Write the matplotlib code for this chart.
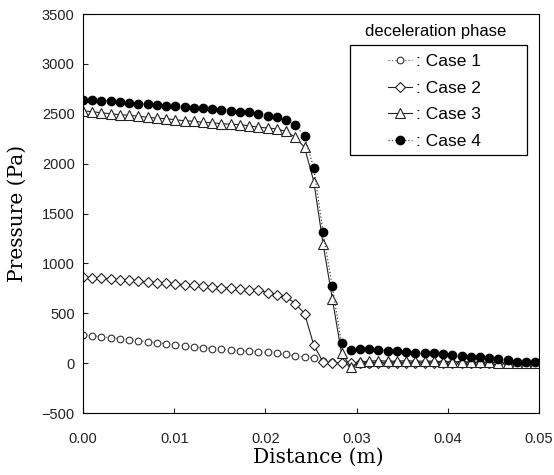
import numpy as np
import matplotlib.pyplot as plt
from matplotlib.patches import Rectangle

# 50 sampling stations along the channel (m)
distance = np.linspace(0, 0.0496, 50)

case1 = [285, 275, 265, 255, 245, 235, 225, 215, 205, 195,
         185, 175, 165, 155, 145, 140, 132, 125, 120, 113,
         107, 97, 87, 73, 63, 47, 20, 13, 0, -5,
         -10, -5, 0, 0, 0, 0, 0, 0, 0, 0,
         0, 0, -5, -5, -5, -10, -10, -10, -10, -10]
case2 = [865, 858, 850, 843, 836, 830, 822, 815, 808, 800,
         793, 786, 780, 772, 765, 758, 750, 740, 730, 730,
         707, 687, 663, 597, 497, 180, 13, 5, 0, 0,
         0, 0, 0, 0, 0, 0, 0, 0, 0, 0,
         0, 0, 0, 0, 0, 0, 0, 0, 0, 0]
case3 = [2530, 2520, 2510, 2500, 2490, 2485, 2475, 2465, 2455, 2450,
         2440, 2430, 2425, 2415, 2410, 2400, 2395, 2390, 2380, 2365,
         2357, 2347, 2323, 2263, 2163, 1820, 1197, 647, 100, -35,
         10, 20, 25, 20, 20, 25, 20, 20, 20, 15,
         15, 15, 10, 10, 10, 5, 5, 0, 0, 0]
case4 = [2640, 2635, 2630, 2625, 2615, 2610, 2600, 2595, 2590, 2580,
         2575, 2570, 2560, 2555, 2550, 2540, 2530, 2520, 2513, 2497,
         2480, 2463, 2437, 2387, 2273, 1953, 1313, 770, 197, 130,
         140, 140, 130, 125, 120, 113, 103, 97, 97, 87,
         80, 70, 63, 57, 53, 37, 30, 15, 15, 15]

fig = plt.figure(figsize=(5.54, 4.75), dpi=100)
ax = fig.add_axes([0.1498, 0.1305, 0.8232, 0.84])

ax.plot(distance, case1, color='#666666', linestyle=':', linewidth=0.9,
        marker='o', markersize=4.8, markerfacecolor='white',
        markeredgecolor='#333333', markeredgewidth=0.8, label=': Case 1')
ax.plot(distance, case2, color='#222222', linestyle='-', linewidth=0.8,
        marker='D', markersize=5.5, markerfacecolor='white',
        markeredgecolor='#222222', markeredgewidth=0.8, label=': Case 2')
ax.plot(distance, case3, color='#222222', linestyle='-', linewidth=0.8,
        marker='^', markersize=6.5, markerfacecolor='white',
        markeredgecolor='#222222', markeredgewidth=0.8, label=': Case 3')
ax.plot(distance, case4, color='#444444', linestyle=':', linewidth=0.9,
        marker='o', markersize=6, markerfacecolor='black',
        markeredgecolor='black', label=': Case 4')

ax.set_xlim(0, 0.05)
ax.set_ylim(-500, 3500)
ax.set_xticks(np.arange(0, 0.051, 0.01))
ax.set_xticklabels(['0.00', '0.01', '0.02', '0.03', '0.04', '0.05'])
ax.set_yticks(np.arange(-500, 3501, 500))
ax.tick_params(direction='in', length=3.5, labelsize=10.5, colors='#222222')
ax.tick_params(axis='x', pad=13.5)
ax.tick_params(axis='y', pad=6)
for lab in ax.get_xticklabels() + ax.get_yticklabels():
    lab.set_family('Liberation Sans')

ax.set_xlabel('Distance (m)', fontsize=14.5, family='DejaVu Serif')
ax.set_ylabel('Pressure (Pa)', fontsize=14.5, family='DejaVu Serif')
ax.xaxis.set_label_coords(0.515, -0.088)
ax.yaxis.set_label_coords(-0.123, 0.5)

ax.text(0.774, 0.955, 'deceleration phase', transform=ax.transAxes,
        ha='center', va='center', fontsize=12, family='Liberation Sans')
ax.add_patch(Rectangle((0.585, 0.647), 0.389, 0.276, transform=ax.transAxes,
                       fill=False, edgecolor='black', linewidth=0.9))
leg = ax.legend(loc='upper left', bbox_to_anchor=(0.668, 0.9),
                prop={'family': 'Liberation Sans', 'size': 12.5},
                frameon=False, handlelength=1.4, handletextpad=0.25,
                labelspacing=0.66, borderpad=0, borderaxespad=0)

fig.savefig('out.png', dpi=100)
